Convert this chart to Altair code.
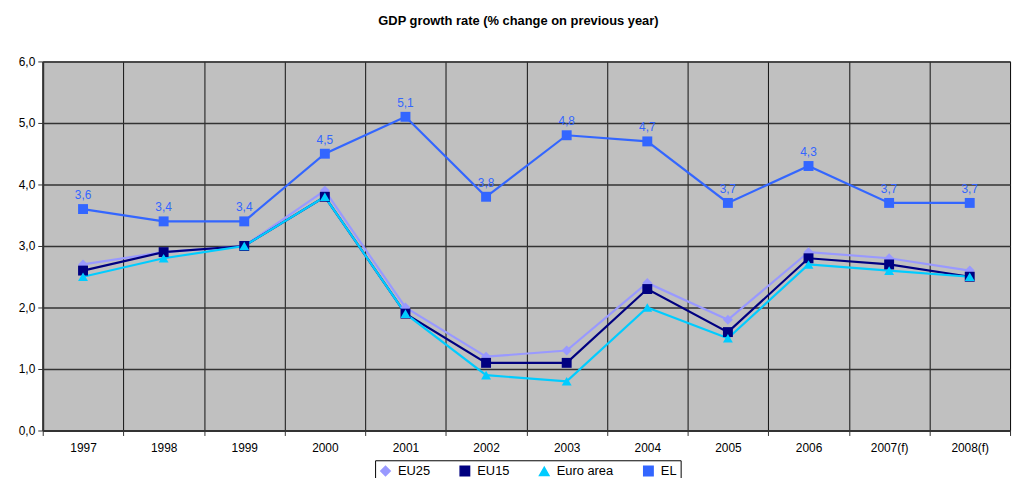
import altair as alt
import pandas as pd

years = ["1997", "1998", "1999", "2000", "2001", "2002", "2003", "2004", "2005", "2006", "2007(f)", "2008(f)"]
series = ["EU25", "EU15", "Euro area", "EL"]
eu25 = [2.7, 2.9, 3.0, 3.9, 2.0, 1.2, 1.3, 2.4, 1.8, 2.9, 2.8, 2.6]
eu15 = [2.6, 2.9, 3.0, 3.8, 1.9, 1.1, 1.1, 2.3, 1.6, 2.8, 2.7, 2.5]
euro_area = [2.5, 2.8, 3.0, 3.8, 1.9, 0.9, 0.8, 2.0, 1.5, 2.7, 2.6, 2.5]
el = [3.6, 3.4, 3.4, 4.5, 5.1, 3.8, 4.8, 4.7, 3.7, 4.3, 3.7, 3.7]
colors = ["#9999FF", "#000080", "#00CCFF", "#3366FF"]
shapes = ["diamond", "square", "triangle-up", "square"]

rows = []
for name, vals in zip(series, [eu25, eu15, euro_area, el]):
    for i, (y, v) in enumerate(zip(years, vals)):
        rows.append({"year": y, "series": name, "value": v, "order": series.index(name)})
df = pd.DataFrame(rows)

FONT = "Liberation Sans"

x_enc = alt.X("year:N", sort=years, bandPosition=0.5,
              scale=alt.Scale(type="band", paddingInner=0, paddingOuter=0),
              axis=alt.Axis(title=None, labelAngle=0, tickBand="extent", grid=True,
                            gridColor="#111111", gridOpacity=1, gridWidth=1,
                            domainColor="#333333", domainWidth=2, tickColor="#333333",
                            tickSize=5, labelFontSize=12, labelColor="#000000",
                            labelPadding=7, labelFont=FONT))
y_enc = alt.Y("value:Q", scale=alt.Scale(domain=[0, 6], nice=False),
              axis=alt.Axis(title=None, values=[0, 1, 2, 3, 4, 5, 6],
                            labelExpr="replace(format(datum.value, '.1f'), '.', ',')",
                            grid=True, gridColor="#333333", gridOpacity=1, gridWidth=1.5,
                            domainColor="#333333", domainWidth=2, tickColor="#333333",
                            tickSize=5, labelFontSize=12, labelColor="#000000",
                            labelPadding=3, labelFont=FONT))
color_enc = alt.Color("series:N", sort=series,
                      scale=alt.Scale(domain=series, range=colors),
                      legend=alt.Legend(title=None, orient="none", direction="horizontal",
                                        legendX=335, legendY=402,
                                        strokeColor="#000000", padding=4,
                                        labelFontSize=13, labelFont=FONT, labelColor="#000000",
                                        symbolSize=90, columnPadding=26, labelOffset=6,
                                        fillColor="#FFFFFF"))
shape_enc = alt.Shape("series:N", sort=series, scale=alt.Scale(domain=series, range=shapes))

base = alt.Chart(df)
lines = base.mark_line(strokeWidth=2.2).encode(
    x=x_enc, y=y_enc, color=color_enc, detail="series:N", order="order:Q")
points = base.mark_point(filled=True, size=100, opacity=1).encode(
    x=x_enc, y=y_enc, color=color_enc, shape=shape_enc)

el_df = df[df.series == "EL"]
labels = alt.Chart(el_df).mark_text(dy=-14, fontSize=12, color="#3366FF", font=FONT).encode(
    x=x_enc, y=y_enc,
    text=alt.Text("label:N")).transform_calculate(
    label="replace(format(datum.value, '.1f'), '.', ',')")

chart = alt.layer(lines, points, labels).properties(
    width=975, height=372,
    title=alt.TitleParams("GDP growth rate (% change on previous year)", fontSize=13,
                          fontWeight="bold", font=FONT, anchor="middle", offset=28, dx=-8),
    autosize=alt.AutoSizeParams(type="none"),
    padding={"left": 35, "top": 52, "right": 5, "bottom": 46},
).configure_view(fill="#C0C0C0", stroke="#333333", strokeWidth=1)

chart.save("out.html", embed_options={"renderer": "svg", "actions": False})
